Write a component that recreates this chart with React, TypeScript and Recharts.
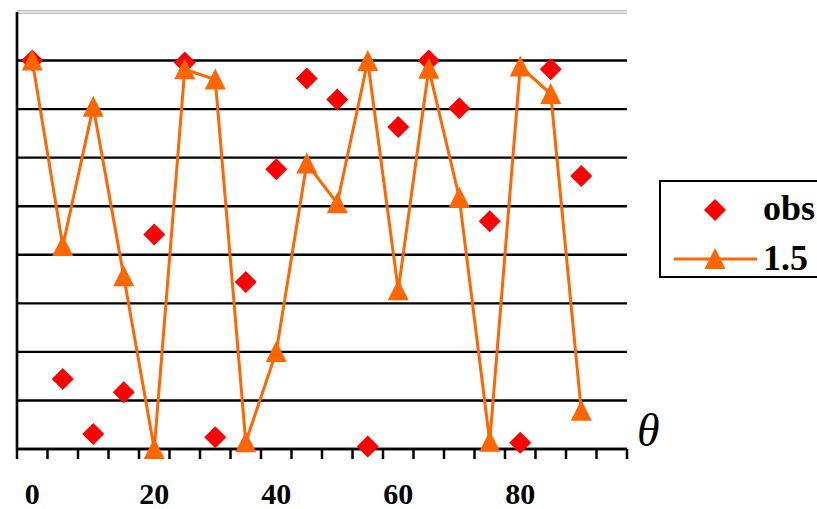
import React from "react";
import {
  LineChart,
  Line,
  XAxis,
  YAxis,
  CartesianGrid,
  ReferenceLine,
} from "recharts";

// theta values, one per point
const thetas = [0, 5, 10, 15, 20, 25, 30, 35, 40, 45, 50, 55, 60, 65, 70, 75, 80, 85, 90];

const obsValues = [
  8.0, 1.44, 0.31, 1.17, 4.42, 7.96, 0.24, 3.44, 5.76, 7.63, 7.2, 0.05, 6.63,
  8.0, 7.02, 4.69, 0.13, 7.82, 5.62,
];

const fit15Values = [
  8.0, 4.18, 7.05, 3.56, 0.0, 7.82, 7.61, 0.14, 2.0, 5.88, 5.06, 7.99, 3.27,
  7.83, 5.18, 0.15, 7.88, 7.31, 0.79,
];

const xLabelTicks = [0, 20, 40, 60, 80];
const xBoundaryTicks = Array.from({ length: 21 }, (_, i) => -2.5 + i * 5);
const yGridTicks = [0, 1, 2, 3, 4, 5, 6, 7, 8];

const data = thetas.map((t, i) => ({
  theta: t,
  obs: obsValues[i],
  fit: fit15Values[i],
}));

const serif = "'Liberation Serif', 'Times New Roman', serif";

const Diamond = (props: any) => {
  const { cx, cy } = props;
  if (cx == null || cy == null) return null;
  const r = 11;
  return (
    <polygon
      points={`${cx},${cy - r} ${cx + r},${cy} ${cx},${cy + r} ${cx - r},${cy}`}
      fill="#FF0000"
    />
  );
};

const Triangle = (props: any) => {
  const { cx, cy } = props;
  if (cx == null || cy == null) return null;
  return (
    <polygon
      points={`${cx},${cy - 11} ${cx + 10.5},${cy + 10} ${cx - 10.5},${cy + 10}`}
      fill="#FF6600"
    />
  );
};

export default function App() {
  return (
    <div style={{ position: "absolute", left: 0, top: 0, width: 817, height: 509, background: "#fff" }}>
      <LineChart
        width={817}
        height={509}
        data={data}
        margin={{ top: 12, right: 190, left: 15, bottom: 0 }}
      >
        <CartesianGrid
          vertical={false}
          stroke="#000"
          strokeWidth={2.4}
          strokeOpacity={1}
        />
        <XAxis
          dataKey="theta"
          type="number"
          domain={[-2.5, 97.5]}
          ticks={xBoundaryTicks}
          interval={0}
          tickFormatter={() => ""}
          tickSize={10}
          height={12}
          axisLine={{ stroke: "#000", strokeWidth: 2.5 }}
          tickLine={{ stroke: "#000", strokeWidth: 2.5 }}
        />
        <XAxis
          xAxisId="lbl"
          dataKey="theta"
          type="number"
          domain={[-2.5, 97.5]}
          ticks={xLabelTicks}
          interval={0}
          height={48}
          axisLine={false}
          tickLine={false}
          tickMargin={16}
          tick={{ fill: "#000", fontSize: 30, fontWeight: "bold", fontFamily: serif }}
        />
        <YAxis
          type="number"
          domain={[0, 9]}
          ticks={yGridTicks}
          interval={0}
          width={2}
          tickFormatter={() => ""}
          tickLine={false}
          axisLine={{ stroke: "#000", strokeWidth: 2.7 }}
        />
        <ReferenceLine y={9} stroke="#e2e2e2" strokeWidth={2} />
        <Line
          dataKey="obs"
          stroke="none"
          dot={<Diamond />}
          activeDot={false}
          isAnimationActive={false}
        />
        <Line
          dataKey="fit"
          type="linear"
          stroke="#FF6600"
          strokeWidth={3}
          dot={<Triangle />}
          activeDot={false}
          isAnimationActive={false}
        />
      </LineChart>
      <div
        style={{
          position: "absolute",
          left: 637,
          top: 408,
          fontFamily: serif,
          fontStyle: "italic",
          fontSize: 46,
          lineHeight: "46px",
          color: "#000",
        }}
      >
        θ
      </div>
      <div
        style={{
          position: "absolute",
          left: 659,
          top: 180,
          width: 170,
          height: 94,
          border: "2.5px solid #000",
          background: "#fff",
          fontFamily: serif,
          fontWeight: "bold",
          fontSize: 36,
          color: "#000",
        }}
      >
        <svg width={100} height={94} style={{ position: "absolute", left: 0, top: 0 }}>
          <polygon points="54,17 65,28 54,39 43,28" fill="#FF0000" />
          <line x1={13} y1={77} x2={96} y2={77} stroke="#FF6600" strokeWidth={3} />
          <polygon points="54,66 64.5,87 43.5,87" fill="#FF6600" />
        </svg>
        <div style={{ position: "absolute", left: 102, top: 6, lineHeight: "40px" }}>obs</div>
        <div style={{ position: "absolute", left: 102, top: 56, lineHeight: "40px" }}>1.5</div>
      </div>
    </div>
  );
}
